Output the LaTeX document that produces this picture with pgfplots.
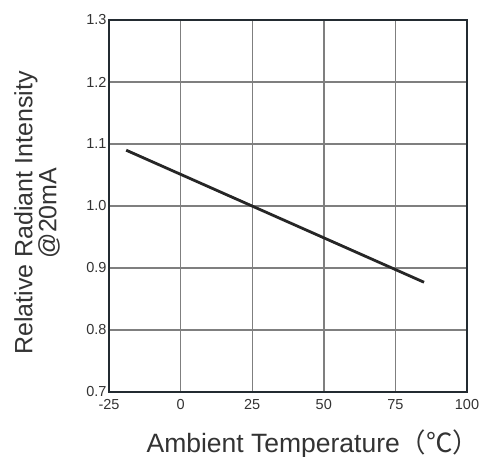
\documentclass[border=0pt]{standalone}
\usepackage{fontspec}
\setmainfont{Liberation Sans}
\newfontfamily\cjk{Noto Sans CJK SC}
\usepackage{pgfplots}
\pgfplotsset{compat=1.18}
\definecolor{axcol}{HTML}{232B31}
\definecolor{gridcol}{HTML}{7F7F7F}
\definecolor{txtcol}{HTML}{333333}
\definecolor{linecol}{HTML}{262626}
\begin{document}
\begin{tikzpicture}
\useasboundingbox (-109pt,-65pt) rectangle (375pt,392pt);
\begin{axis}[
  at={(0,0)}, anchor=south west,
  scale only axis,
  width=358pt, height=372pt,
  xmin=-25, xmax=100, ymin=0.7, ymax=1.3,
  xtick={-25,0,25,50,75,100},
  xticklabels={-25,0,25,50,75,100},
  ytick={0.7,0.8,0.9,1.0,1.1,1.2,1.3},
  yticklabels={0.7,0.8,0.9,1.0,1.1,1.2,1.3},
  grid=major,
  major grid style={draw=gridcol, line width=1.4pt},
  axis line style={draw=axcol, line width=2.6pt},
  major tick length=0pt,
  tick style={draw=none},
  ticklabel style={font=\fontsize{14.5}{16}\selectfont, text=txtcol},
  xticklabel style={yshift=-4pt},
  yticklabel style={xshift=1pt},
  xlabel={Ambient Temperature{\cjk（℃）}},
  xlabel style={font=\fontsize{26.5}{30}\selectfont, text=txtcol, anchor=base, at={(axis description cs:0.5,0)}, yshift=-60pt, xshift=25pt},
  ylabel={Relative Radiant Intensity\\@20mA},
  ylabel style={font=\fontsize{25}{24}\selectfont, text=txtcol, align=center, anchor=south, inner sep=0pt, at={(axis description cs:0,0.5)}, yshift=49pt, xshift=-7pt},
]
\addplot[color=linecol, line width=2.8pt] coordinates {(-19,1.09) (85,0.877)};
\end{axis}
\end{tikzpicture}
\end{document}
